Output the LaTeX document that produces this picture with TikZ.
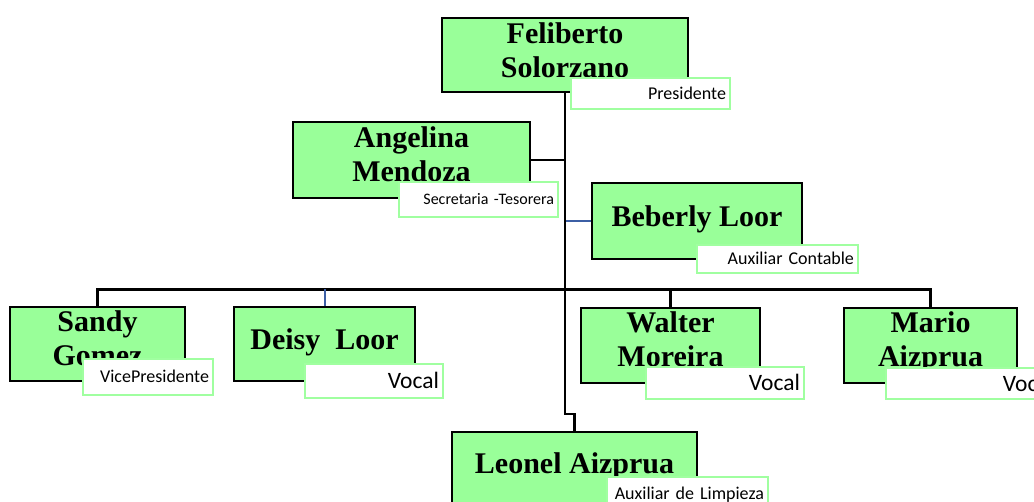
\documentclass[tikz,border=0pt]{standalone}
\usepackage{fontspec}
\setmainfont{Liberation Serif}
\newfontfamily\labfont{Carlito}
\usetikzlibrary{calc}
\definecolor{boxgreen}{RGB}{153,255,153}
\definecolor{labgreen}{RGB}{160,255,160}
\definecolor{connblue}{RGB}{60,95,165}
\tikzset{
  namebox/.style={draw=black, line width=2.5pt, fill=boxgreen, inner sep=0pt,
    align=center, font=\bfseries\fontsize{30}{34}\selectfont, text height=20pt},
  twoline/.style={text height=#1, text depth=0pt},
  labbox/.style={draw=labgreen, line width=2pt, fill=white, inner xsep=4pt, inner ysep=0pt,
    align=right, text depth=0pt},
  labS/.style={labbox, font=\labfont\fontsize{16}{18}\selectfont, text height=10.3pt},
  labM/.style={labbox, font=\labfont\fontsize{18}{20}\selectfont, text height=11.6pt},
  labL/.style={labbox, font=\labfont\fontsize{23.5}{26}\selectfont, text height=15.1pt},
  conn/.style={draw=black, line width=2.2pt},
  bconn/.style={draw=connblue, line width=2pt},
}
\begin{document}
\begin{tikzpicture}[x=1pt, y=-1pt]
\useasboundingbox (0,0) rectangle (1034,502);
\clip (0,0) rectangle (1034,502);
% name boxes
\node[namebox, minimum width=246pt, minimum height=74pt, twoline=45pt] (fel) at (565,55) {Feliberto\\Solorzano};
\node[namebox, minimum width=237pt, minimum height=76pt, twoline=44pt] (ang) at (411.5,160) {Angelina\\Mendoza};
\node[namebox, minimum width=210pt, minimum height=76pt, text depth=8pt] (beb) at (697,221) {Beberly Loor};
\node[namebox, minimum width=175pt, minimum height=74pt, twoline=44pt] (san) at (97.5,344) {Sandy\\Gomez};
\node[namebox, minimum width=181pt, minimum height=74pt, text depth=8pt] (dei) at (324.5,344) {Deisy\ \ Loor};
\node[namebox, minimum width=179pt, minimum height=75pt, twoline=43pt] (wal) at (670.5,345.5) {Walter\\Moreira};
\node[namebox, minimum width=173pt, minimum height=75pt, twoline=43pt] (mar) at (930.5,345.5) {Mario\\Aizprua};
\node[namebox, minimum width=245pt, minimum height=76pt, text depth=12pt] (leo) at (574.5,470) {Leonel Aizprua};
% connectors
\coordinate (bus) at (565,289.5);
\draw[conn] (fel.south) |- ($(leo.north)+(0,-17)$) -- (leo.north);
\draw[conn] (ang.east) -- (ang.east -| fel.south);
\draw[bconn] (beb.west) -- (beb.west -| fel.south);
\draw[conn] (san.north) |- (bus) -| (mar.north);
\draw[conn] (wal.north) -- (wal.north |- bus);
\draw[bconn] (dei.north) -- (dei.north |- bus);
\draw[conn] (fel.south) -- (bus);
% labels
\node[labM, minimum width=159pt, minimum height=31pt, text width=151pt] (lfel) at (650.5,93.5) {Presidente};
\node[labS, minimum width=159pt, minimum height=35pt, text width=151pt] (lang) at (478.5,199.5) {Secretaria -Tesorera};
\node[labM, minimum width=161pt, minimum height=28pt, text width=153pt] (lbeb) at (777.5,259) {Auxiliar Contable};
\node[labM, minimum width=130pt, minimum height=36pt, text width=122pt] (lsan) at (148,377) {VicePresidente};
\node[labL, minimum width=138pt, minimum height=34pt, text width=130pt] (ldei) at (374,381) {Vocal};
\node[labL, minimum width=158pt, minimum height=32pt, text width=150pt] (lwal) at (725,383) {Vocal};
\node[labL, minimum width=172pt, minimum height=31pt, text width=164pt] (lmar) at (972,383.5) {Vocal};
\node[labM, minimum width=161pt, minimum height=33pt, text width=153pt] (lleo) at (687.5,493.5) {Auxiliar de Limpieza};
\end{tikzpicture}
\end{document}
